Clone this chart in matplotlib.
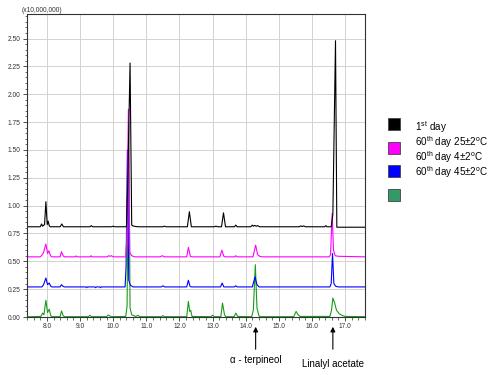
import matplotlib
matplotlib.use("Agg")
import matplotlib.pyplot as plt
from matplotlib.patches import Rectangle
from matplotlib.ticker import MultipleLocator, FormatStrFormatter

plt.rcParams['font.family'] = ['Liberation Sans', 'DejaVu Sans']
plt.rcParams['mathtext.fontset'] = 'custom'
plt.rcParams['mathtext.rm'] = 'Liberation Sans'
plt.rcParams['mathtext.it'] = 'Liberation Sans:italic'

# ---- data (retention time in min, intensity in x10,000,000) ----
black_t = [7.40, 7.80, 7.84, 7.87, 7.93, 7.97, 8.01, 8.04, 8.07, 8.10, 8.40, 8.45, 8.50,
           9.30, 9.34, 9.38, 9.95, 10.00, 10.05, 10.40, 10.44, 10.51, 10.56, 10.62, 10.75,
           11.50, 11.55, 11.60, 12.24, 12.30, 12.36, 13.05, 13.10, 13.15, 13.27, 13.33, 13.39,
           13.66, 13.70, 13.74, 14.15, 14.20, 14.23, 14.27, 14.32, 14.36, 14.42,
           15.62, 15.66, 15.70, 15.75, 15.80, 16.38, 16.42, 16.45, 16.58, 16.63, 16.71, 16.75, 17.60]
black_y = [0.81, 0.81, 0.835, 0.815, 0.83, 1.035, 0.83, 0.86, 0.82, 0.81, 0.81, 0.835, 0.81,
           0.81, 0.82, 0.81, 0.81, 0.815, 0.81, 0.81, 1.20, 2.28, 0.825, 0.815, 0.81,
           0.81, 0.815, 0.81, 0.81, 0.945, 0.81, 0.81, 0.815, 0.81, 0.81, 0.935, 0.81,
           0.81, 0.825, 0.81, 0.81, 0.825, 0.815, 0.822, 0.815, 0.82, 0.81,
           0.81, 0.818, 0.812, 0.818, 0.81, 0.81, 0.82, 0.81, 0.81, 0.92, 2.48, 0.806, 0.806]

magenta_t = [7.40, 7.80, 7.85, 7.90, 7.97, 8.02, 8.06, 8.11, 8.15, 8.40, 8.44, 8.49, 8.53,
             8.85, 8.88, 8.92, 9.30, 9.33, 9.36, 9.82, 9.86, 9.90, 9.95, 10.00,
             10.38, 10.41, 10.46, 10.50, 10.56, 10.65, 11.42, 11.48, 11.55,
             12.22, 12.27, 12.33, 12.37, 13.22, 13.28, 13.34, 13.38, 13.66, 13.70, 13.74,
             14.22, 14.30, 14.36, 14.42, 14.50, 16.52, 16.56, 16.61, 16.65, 16.70, 16.80, 17.60]
magenta_y = [0.54, 0.54, 0.555, 0.58, 0.655, 0.57, 0.595, 0.55, 0.54, 0.54, 0.585, 0.55, 0.54,
             0.54, 0.548, 0.54, 0.54, 0.55, 0.54, 0.54, 0.55, 0.545, 0.55, 0.54,
             0.54, 0.70, 1.865, 0.58, 0.55, 0.54, 0.54, 0.55, 0.54,
             0.54, 0.625, 0.545, 0.54, 0.54, 0.60, 0.545, 0.54, 0.54, 0.55, 0.54,
             0.54, 0.645, 0.56, 0.545, 0.54, 0.54, 0.56, 0.93, 0.60, 0.55, 0.545, 0.54]

blue_t = [7.40, 7.85, 7.90, 7.97, 8.02, 8.07, 8.12, 8.15, 8.40, 8.44, 8.49, 8.53,
          9.18, 9.20, 9.22, 9.45, 9.47, 9.49, 9.60, 9.62, 9.64,
          10.36, 10.39, 10.43, 10.47, 10.52, 10.60, 11.45, 11.50, 11.55,
          12.22, 12.27, 12.32, 12.36, 13.24, 13.29, 13.34, 13.66, 13.70, 13.74,
          14.20, 14.28, 14.34, 14.40, 16.54, 16.58, 16.62, 16.66, 16.72, 16.80, 17.60]
blue_y = [0.27, 0.27, 0.29, 0.35, 0.29, 0.305, 0.275, 0.27, 0.27, 0.29, 0.275, 0.27,
          0.27, 0.263, 0.27, 0.27, 0.263, 0.27, 0.27, 0.263, 0.27,
          0.27, 0.45, 1.50, 0.33, 0.285, 0.27, 0.27, 0.28, 0.27,
          0.27, 0.33, 0.275, 0.27, 0.27, 0.305, 0.27, 0.27, 0.28, 0.27,
          0.27, 0.36, 0.29, 0.27, 0.27, 0.30, 0.57, 0.30, 0.275, 0.27, 0.27]

green_t = [7.40, 7.82, 7.87, 7.91, 7.97, 8.02, 8.07, 8.12, 8.16, 8.40, 8.44, 8.49, 8.53,
           9.25, 9.30, 9.35, 9.80, 9.85, 9.90, 9.95,
           10.38, 10.42, 10.47, 10.51, 10.56, 10.62, 10.68, 10.75, 10.80, 11.45, 11.50, 11.55,
           12.22, 12.27, 12.31, 12.34, 12.38, 12.95, 13.00, 13.05, 13.25, 13.30, 13.36, 13.40,
           13.65, 13.70, 13.76, 14.18, 14.23, 14.29, 14.34, 14.40, 14.45,
           15.45, 15.52, 15.58, 15.64, 16.54, 16.59, 16.63, 16.68, 16.74, 16.82, 16.90, 17.00, 17.60]
green_y = [0.002, 0.005, 0.035, 0.02, 0.15, 0.04, 0.07, 0.01, 0.003, 0.003, 0.055, 0.012, 0.003,
           0.003, 0.015, 0.003, 0.003, 0.018, 0.01, 0.003,
           0.005, 0.10, 1.75, 0.08, 0.02, 0.012, 0.005, 0.015, 0.003, 0.003, 0.012, 0.003,
           0.003, 0.14, 0.05, 0.06, 0.005, 0.003, 0.015, 0.003, 0.003, 0.125, 0.02, 0.003,
           0.003, 0.035, 0.005, 0.003, 0.06, 0.47, 0.08, 0.01, 0.003,
           0.003, 0.05, 0.02, 0.005, 0.005, 0.06, 0.17, 0.13, 0.06, 0.03, 0.015, 0.005, 0.003]

legend_labels = [r'1$^{\mathrm{st}}$ day',
                 r'60$^{\mathrm{th}}$ day 25$\pm$2$^{\mathrm{o}}$C',
                 r'60$^{\mathrm{th}}$ day 4$\pm$2$^{\mathrm{o}}$C',
                 r'60$^{\mathrm{th}}$ day 45$\pm$2$^{\mathrm{o}}$C']
square_colors = ['#000000', '#ff00ff', '#0000ff', '#339966']
annot_labels = ['α - terpineol', 'Linalyl acetate']
annot_x = [14.30, 16.63]

# ---- figure ----
fig = plt.figure(figsize=(5, 3.75), dpi=100)
ax = fig.add_axes([27/500, 1-317/375, (365-27)/500, (317-14)/375])

ax.plot(green_t, green_y, color='#1a9a1a', lw=0.8)
ax.plot(blue_t, blue_y, color='#0000ff', lw=0.8)
ax.plot(magenta_t, magenta_y, color='#ff00ff', lw=0.8)
ax.plot(black_t, black_y, color='#000000', lw=0.8)

ax.set_xlim(7.40, 17.60)
ax.set_ylim(0.0, 2.72)
ax.xaxis.set_major_locator(MultipleLocator(1.0))
ax.xaxis.set_minor_locator(MultipleLocator(0.2))
ax.yaxis.set_major_locator(MultipleLocator(0.25))
ax.yaxis.set_minor_locator(MultipleLocator(0.05))
ax.xaxis.set_major_formatter(FormatStrFormatter('%.1f'))
ax.yaxis.set_major_formatter(FormatStrFormatter('%.2f'))
ax.tick_params(which='major', direction='out', length=3, width=0.6, labelsize=4.8,
               colors='#333333', pad=1.5)
ax.tick_params(which='minor', direction='out', length=1.8, width=0.5, colors='#333333')
ax.grid(True, which='major', color='#d2d2d2', lw=0.7, ls='-')
ax.set_axisbelow(True)
for s in ax.spines.values():
    s.set_color('#333333')
    s.set_linewidth(0.8)

fig.text(22/500, 1-10/375, '(x10,000,000)', fontsize=4.8, color='#333333', va='center', ha='left')

# annotations
label_y = [1-360/375, 1-364/375]
for lab, xv, ly in zip(annot_labels, annot_x, label_y):
    ax.annotate('', xy=(xv, 1-324/375), xytext=(xv, 1-352/375),
                xycoords=('data', 'figure fraction'), textcoords=('data', 'figure fraction'),
                arrowprops=dict(arrowstyle='-|>', color='black', lw=0.8, mutation_scale=7),
                annotation_clip=False)
    ax.annotate(lab, xy=(xv, ly), xycoords=('data', 'figure fraction'),
                ha='center', va='center', fontsize=7, annotation_clip=False)

# legend
sq_y = [124, 148, 171, 195]
for c, yc in zip(square_colors, sq_y):
    fig.patches.append(Rectangle((388/500, 1-(yc+6)/375), 12/500, 12/375,
                                 facecolor=c, edgecolor='#444444', lw=0.6,
                                 transform=fig.transFigure, figure=fig))
txt_y = [127, 142.5, 157, 172]
for lab, yc in zip(legend_labels, txt_y):
    fig.text(415/500, 1-yc/375, lab, fontsize=7.1, va='center', ha='left')

fig.savefig('out.png', dpi=100)
